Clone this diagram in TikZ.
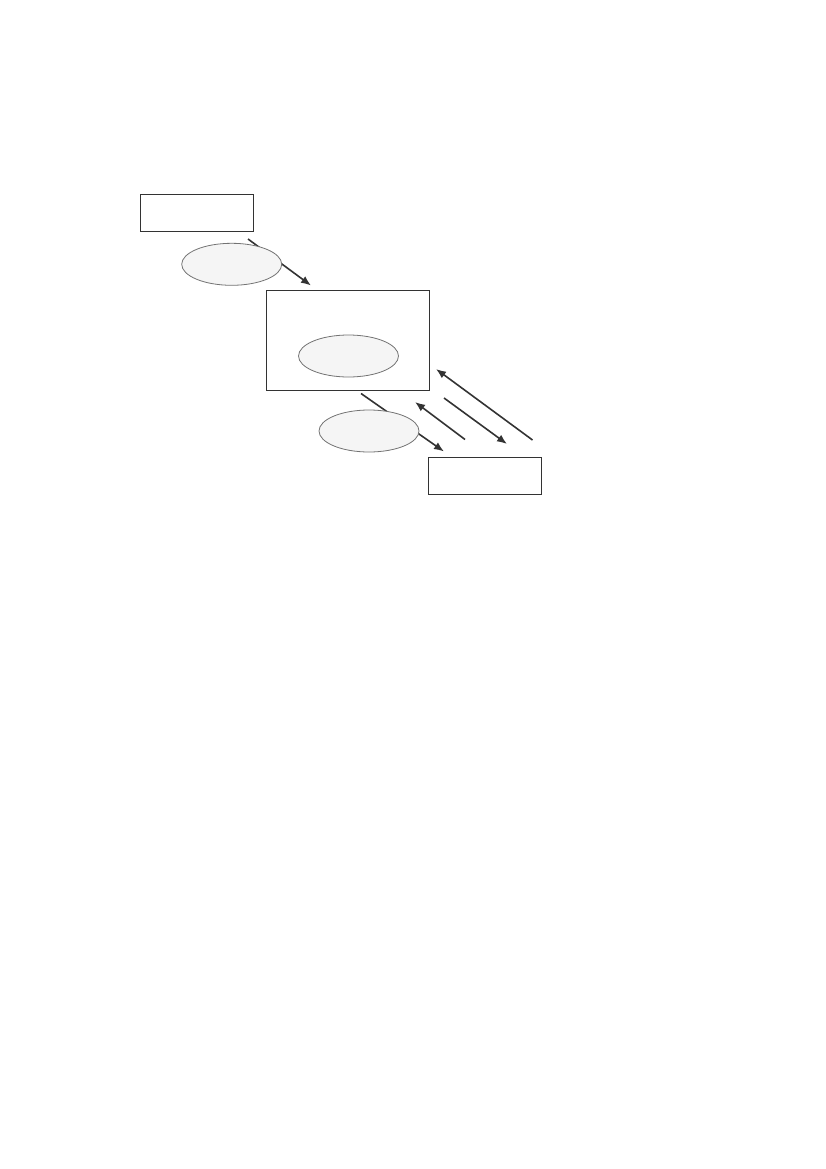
\documentclass[tikz,border=0pt]{standalone}
\usetikzlibrary{arrows.meta,shapes.geometric}
\begin{document}
\begin{tikzpicture}[x=1pt,y=-1pt,
  boxnode/.style={draw=black!80,line width=1.2pt,minimum width=113pt,minimum height=37pt,inner sep=0pt,anchor=north west},
  bigbox/.style={draw=black!80,line width=1.2pt,minimum width=163pt,minimum height=100pt,inner sep=0pt,anchor=north west},
  oval/.style={ellipse,draw=black!55,line width=0.8pt,fill=black!4,minimum width=100pt,minimum height=42pt,inner sep=0pt},
  conn/.style={draw=black!80,line width=1.6pt,-{Latex[length=10pt,width=8pt]}}]
\useasboundingbox (0,0) rectangle (826,1169);
% boxes
\node[boxnode] (b1) at (140,194) {};
\node[bigbox] (b2) at (265.5,289.5) {};
\node[boxnode] (b3) at (427.5,457) {};
% connector end points
\coordinate (a1s) at (248,239);
\coordinate (a1e) at (311,285.5);
\coordinate (a2s) at (361,393.5);
\coordinate (a2e) at (444,451.5);
\coordinate (a3s) at (465,439.5);
\coordinate (a3e) at (415,402);
\coordinate (a4s) at (444,398);
\coordinate (a4e) at (507,444);
\coordinate (a5s) at (532.5,440);
\coordinate (a5e) at (436,369);
\draw[conn] (a1s) -- (a1e);
\draw[conn] (a2s) -- (a2e);
\draw[conn] (a3s) -- (a3e);
\draw[conn] (a4s) -- (a4e);
\draw[conn] (a5s) -- (a5e);
% ellipses
\node[oval] (e1) at (231.7,264.3) {};
\node[oval] (e2) at (348.5,356) {};
\node[oval] (e3) at (369,431) {};
\end{tikzpicture}
\end{document}
